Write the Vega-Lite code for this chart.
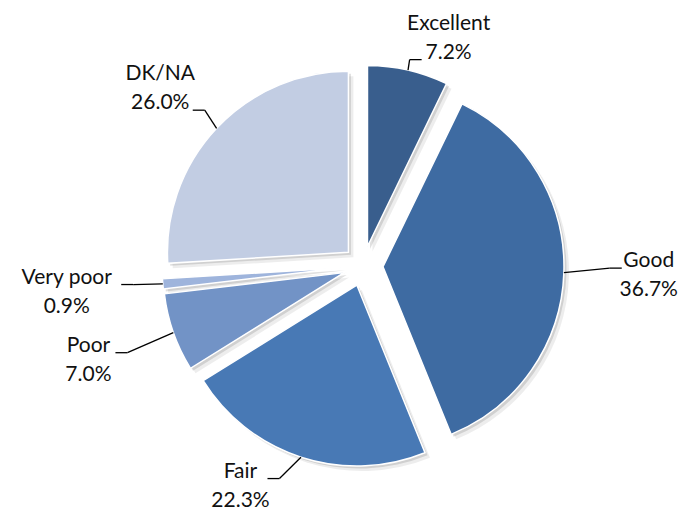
{
  "$schema": "https://vega.github.io/schema/vega-lite/v6.json",
  "width": 630,
  "height": 488,
  "autosize": {"type": "none"},
  "padding": {"left": 48, "top": 22, "right": 0, "bottom": 0},
  "background": "white",
  "config": {"view": {"stroke": null}},
  "data": {"values": [
    {"label": "Excellent", "pct": 7.2},
    {"label": "Good", "pct": 36.7},
    {"label": "Fair", "pct": 22.3},
    {"label": "Poor", "pct": 7.0},
    {"label": "Very poor", "pct": 0.9},
    {"label": "DK/NA", "pct": 26.0}
  ]},
  "transform": [
    {"window": [{"op": "row_number", "as": "rank"}]},
    {"joinaggregate": [{"op": "sum", "field": "pct", "as": "total"}]},
    {"stack": "pct", "groupby": [], "sort": [{"field": "rank", "order": "ascending"}], "as": ["v0", "v1"]},
    {"calculate": "PI*(datum.v0+datum.v1)/datum.total", "as": "mid"},
    {"calculate": "sin(datum.mid)", "as": "sx"},
    {"calculate": "-cos(datum.mid)", "as": "sy"},
    {"calculate": "format(datum.pct, '.1f') + '%'", "as": "pstr"},
    {"calculate": "datum.label + '\\n' + datum.pstr", "as": "txt"},
    {"calculate": "width/2 + 20*datum.sx", "as": "cx"},
    {"calculate": "height/2 + 20*datum.sy", "as": "cy"},
    {"calculate": "width/2 + 201*datum.sx", "as": "l0x"},
    {"calculate": "height/2 + 201*datum.sy", "as": "l0y"},
    {"calculate": "datum.mid + 0.44*sin(2*datum.mid)*pow(cos(datum.mid), 8)", "as": "phi"},
    {"calculate": "1/sqrt(pow(sin(datum.phi)/292, 2) + pow(cos(datum.phi)/240, 2))", "as": "lr"},
    {"calculate": "width/2 - 6 + datum.lr*sin(datum.phi)", "as": "tx"},
    {"calculate": "height/2 - datum.lr*cos(datum.phi)", "as": "ty"},
    {"calculate": "sin(datum.phi) < 0 ? -1 : 1", "as": "side"},
    {"calculate": "cos(datum.phi) > 0", "as": "up"},
    {"calculate": "datum.up ? length(datum.pstr) : length(datum.label)", "as": "llen"},
    {"calculate": "datum.up ? datum.ty + 21.5 : datum.ty - 7.5", "as": "l2y"},
    {"calculate": "datum.tx - datum.side*(datum.llen*5.5 + 5)", "as": "l2x"},
    {"calculate": "datum.l2x - datum.side*12", "as": "l1x"}
  ],
  "layer": [
    {
      "mark": {"type": "arc", "outerRadius": 181, "color": "#000000", "opacity": 0.07, "xOffset": 5, "yOffset": 5},
      "encoding": {
        "theta": {"field": "pct", "type": "quantitative", "stack": "zero"},
        "order": {"field": "rank", "type": "quantitative", "sort": "ascending"},
        "x": {"field": "cx", "type": "quantitative", "scale": null, "stack": null},
        "y": {"field": "cy", "type": "quantitative", "scale": null, "stack": null}
      }
    },
    {
      "mark": {"type": "arc", "outerRadius": 181, "color": "#000000", "opacity": 0.12, "xOffset": 2.5, "yOffset": 2.5},
      "encoding": {
        "theta": {"field": "pct", "type": "quantitative", "stack": "zero"},
        "order": {"field": "rank", "type": "quantitative", "sort": "ascending"},
        "x": {"field": "cx", "type": "quantitative", "scale": null, "stack": null},
        "y": {"field": "cy", "type": "quantitative", "scale": null, "stack": null}
      }
    },
    {
      "mark": {"type": "arc", "outerRadius": 181, "stroke": "#ffffff", "strokeWidth": 1.5},
      "encoding": {
        "theta": {"field": "pct", "type": "quantitative", "stack": "zero"},
        "order": {"field": "rank", "type": "quantitative", "sort": "ascending"},
        "x": {"field": "cx", "type": "quantitative", "scale": null, "stack": null},
        "y": {"field": "cy", "type": "quantitative", "scale": null, "stack": null},
        "color": {
          "field": "label",
          "type": "nominal",
          "scale": {
            "domain": ["Excellent", "Good", "Fair", "Poor", "Very poor", "DK/NA"],
            "range": ["#395E8D", "#3E6BA2", "#4879B5", "#7293C6", "#9EB4DC", "#C2CDE3"]
          },
          "legend": null
        }
      }
    },
    {
      "mark": {"type": "rule", "color": "#000000", "strokeWidth": 1.3},
      "encoding": {
        "x": {"field": "l0x", "type": "quantitative", "scale": null},
        "y": {"field": "l0y", "type": "quantitative", "scale": null},
        "x2": {"field": "l1x"},
        "y2": {"field": "l2y"}
      }
    },
    {
      "mark": {"type": "rule", "color": "#000000", "strokeWidth": 1.3},
      "encoding": {
        "x": {"field": "l1x", "type": "quantitative", "scale": null},
        "y": {"field": "l2y", "type": "quantitative", "scale": null},
        "x2": {"field": "l2x"}
      }
    },
    {
      "mark": {"type": "text", "align": "center", "baseline": "middle", "dy": -14.5, "lineBreak": "\n", "lineHeight": 29, "font": "Lato", "fontSize": 21, "color": "#111111"},
      "encoding": {
        "x": {"field": "tx", "type": "quantitative", "scale": null},
        "y": {"field": "ty", "type": "quantitative", "scale": null},
        "text": {"field": "txt"}
      }
    }
  ]
}
